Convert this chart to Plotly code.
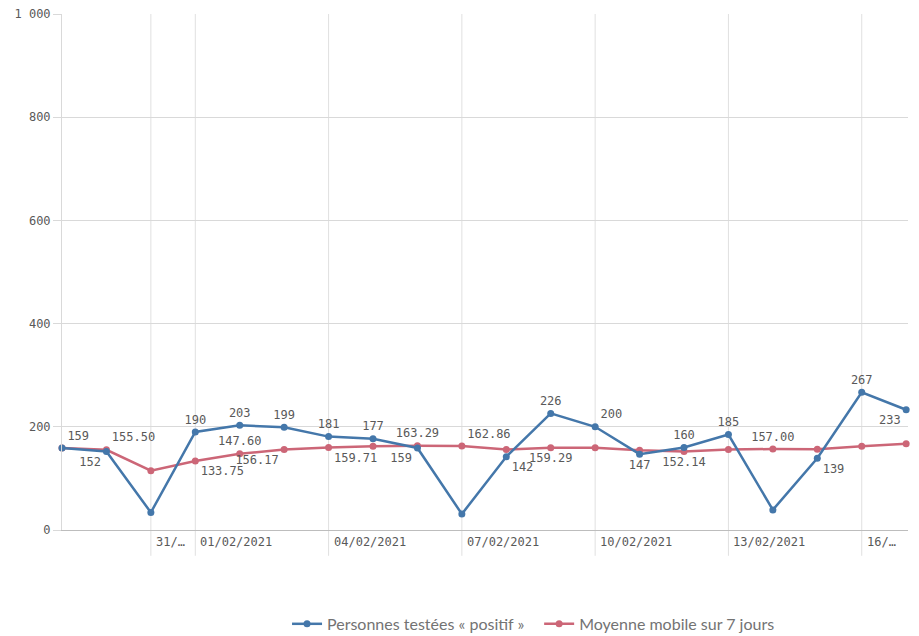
import plotly.graph_objects as go

dates = ["2021-01-29", "2021-01-30", "2021-01-31", "2021-02-01", "2021-02-02", "2021-02-03",
         "2021-02-04", "2021-02-05", "2021-02-06", "2021-02-07", "2021-02-08", "2021-02-09",
         "2021-02-10", "2021-02-11", "2021-02-12", "2021-02-13", "2021-02-14", "2021-02-15",
         "2021-02-16", "2021-02-17"]
positifs = [159, 152, 34, 190, 203, 199, 181, 177, 159, 31, 142, 226, 200, 147, 160, 185, 39, 139, 267, 233]
moyenne = [159.00, 155.50, 115.00, 133.75, 147.60, 156.17, 159.71, 162.29, 163.29, 162.86, 156.00,
           159.29, 159.43, 154.57, 152.14, 155.86, 157.00, 156.57, 162.43, 167.14]

pos_text = ["159", "152", "", "190", "203", "199", "181", "177", "159", "", "142", "226", "200",
            "147", "160", "185", "", "139", "267", "233"]
pos_tpos = ["top right", "bottom left", "top center", "top center", "top center", "top center",
            "top center", "top center", "bottom left", "top center", "bottom right", "top center",
            "top right", "bottom center", "top center", "top center", "top center", "bottom right",
            "top center", "bottom left"]
moy_text = ["", "155.50", "", "133.75", "147.60", "156.17", "159.71", "", "163.29", "162.86", "",
            "159.29", "", "", "152.14", "", "157.00", "", "", ""]
moy_tpos = ["top center", "top right", "top center", "bottom right", "top center", "bottom left",
            "bottom right", "top center", "top center", "top right", "top center", "bottom center",
            "top center", "top center", "bottom center", "top center", "top center", "top center",
            "top center", "top center"]

tick_dates = ["2021-01-31", "2021-02-01", "2021-02-04", "2021-02-07", "2021-02-10", "2021-02-13", "2021-02-16"]
tick_labels = ["31/…", "01/02/2021", "04/02/2021", "07/02/2021", "10/02/2021", "13/02/2021", "16/…"]
y_ticks = [0, 200, 400, 600, 800, 1000]
y_labels = ["0", "200", "400", "600", "800", "1 000"]

BLUE = "#4477aa"
RED = "#cc6677"
GREY = "#595959"
MONO = "DejaVu Sans Mono"

fig = go.Figure()
fig.add_trace(go.Scatter(
    x=dates, y=moyenne, name="Moyenne mobile sur 7 jours", mode="lines+markers+text",
    line=dict(color=RED, width=2.5), marker=dict(color=RED, size=7),
    text=moy_text, textposition=moy_tpos,
    textfont=dict(family=MONO, size=12, color=GREY), cliponaxis=False, legend="legend2",
))
fig.add_trace(go.Scatter(
    x=dates, y=positifs, name="Personnes testées « positif »", mode="lines+markers+text",
    line=dict(color=BLUE, width=2.5), marker=dict(color=BLUE, size=7),
    text=pos_text, textposition=pos_tpos,
    textfont=dict(family=MONO, size=12, color=GREY), cliponaxis=False, legend="legend",
))

shapes = []
for d in tick_dates:
    shapes.append(dict(type="line", xref="x", yref="paper", x0=d, x1=d, y0=-0.05, y1=1,
                       line=dict(color="#e0e0e0", width=1), layer="below"))
annotations = []
for d, lab in zip(tick_dates, tick_labels):
    annotations.append(dict(x=d, y=0, xref="x", yref="paper", text=lab, showarrow=False,
                            xanchor="left", yanchor="top", xshift=3, yshift=-3,
                            font=dict(family=MONO, size=12, color=GREY)))

legend_font = dict(family="Lato", size=16, color="#737373")
fig.update_layout(
    width=919, height=636,
    margin=dict(l=62, r=11, t=14, b=106, autoexpand=False),
    plot_bgcolor="white", paper_bgcolor="white",
    shapes=shapes, annotations=annotations,
    legend=dict(orientation="h", x=0.266, xanchor="left", y=-0.182, yanchor="middle",
                font=legend_font, itemwidth=30),
    legend2=dict(orientation="h", x=0.564, xanchor="left", y=-0.182, yanchor="middle",
                 font=legend_font, itemwidth=30),
    xaxis=dict(type="date", range=["2021-01-29", "2021-02-17 01:00"], showgrid=False,
               showticklabels=False, showline=True, linecolor="#bdbdbd", linewidth=1,
               zeroline=False, ticks="", automargin=False),
    yaxis=dict(range=[0, 1000], tickvals=y_ticks, ticktext=y_labels,
               tickfont=dict(family=MONO, size=12, color=GREY),
               showgrid=True, gridcolor="#d9d9d9", zeroline=False,
               showline=True, linecolor="#d9d9d9", ticks="outside", ticklen=8,
               tickcolor="#d9d9d9", automargin=False),
    showlegend=True,
)

fig.write_html("out.html", config={"displayModeBar": False},
               post_script="document.body.style.margin='0';document.body.style.overflow='hidden';")
